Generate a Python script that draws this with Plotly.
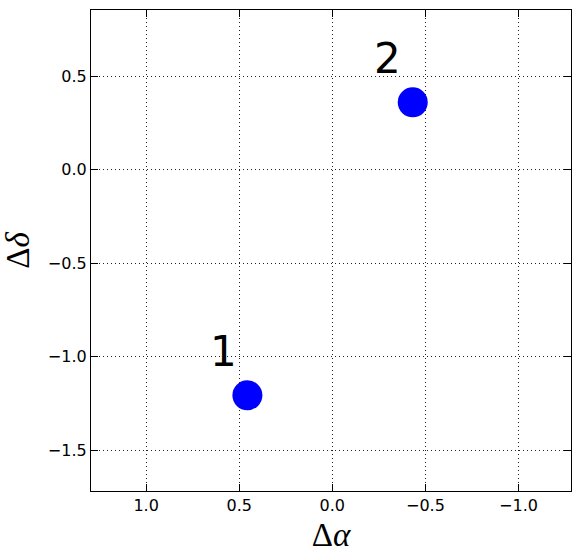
import plotly.graph_objects as go

# Data
labels = ["1", "2"]
d_alpha = [0.456, -0.432]
d_delta = [-1.206, 0.361]
label_x = [0.582, -0.299]
label_y = [-0.97, 0.595]
x_ticks = [1.0, 0.5, 0.0, -0.5, -1.0]
x_ticklabels = ["1.0", "0.5", "0.0", "\u22120.5", "\u22121.0"]
y_ticks = [0.5, 0.0, -0.5, -1.0, -1.5]
y_ticklabels = ["0.5", "0.0", "\u22120.5", "\u22121.0", "\u22121.5"]

fig = go.Figure()
fig.add_trace(go.Scatter(
    x=d_alpha, y=d_delta, mode="markers",
    marker=dict(size=30, color="#0000ff", line=dict(width=0)),
    showlegend=False, hoverinfo="skip"))

for t, lx, ly in zip(labels, label_x, label_y):
    fig.add_annotation(x=lx, y=ly, text=t, showarrow=False,
                       xanchor="center", yanchor="middle",
                       font=dict(family="DejaVu Sans", size=42, color="black"))

axis_common = dict(
    showline=True, linecolor="black", linewidth=1.2, mirror="ticks",
    ticks="inside", ticklen=7, tickcolor="black", tickwidth=1,
    showgrid=True, gridcolor="#222222", griddash="1px,3px", gridwidth=1,
    zeroline=False,
    tickfont=dict(family="DejaVu Sans", size=16, color="black"),
)

fig.update_xaxes(range=[1.296, -1.282], tickmode="array", tickvals=x_ticks,
                 ticktext=x_ticklabels,
                 title=dict(text="\u0394<i>\u03b1</i>", standoff=8,
                            font=dict(family="Liberation Serif", size=33, color="black")),
                 **axis_common)
fig.update_yaxes(range=[-1.718, 0.855], tickmode="array", tickvals=y_ticks,
                 ticktext=y_ticklabels,
                 title=dict(text="\u0394<i>\u03b4</i>", standoff=10,
                            font=dict(family="Liberation Serif", size=33, color="black")),
                 **axis_common)

fig.update_layout(width=580, height=558,
                  margin=dict(l=91, r=9, t=10, b=67),
                  plot_bgcolor="white", paper_bgcolor="white")

fig.write_html("out.html", config={"displayModeBar": False},
               post_script="document.body.style.margin='0';document.body.style.overflow='hidden';")
